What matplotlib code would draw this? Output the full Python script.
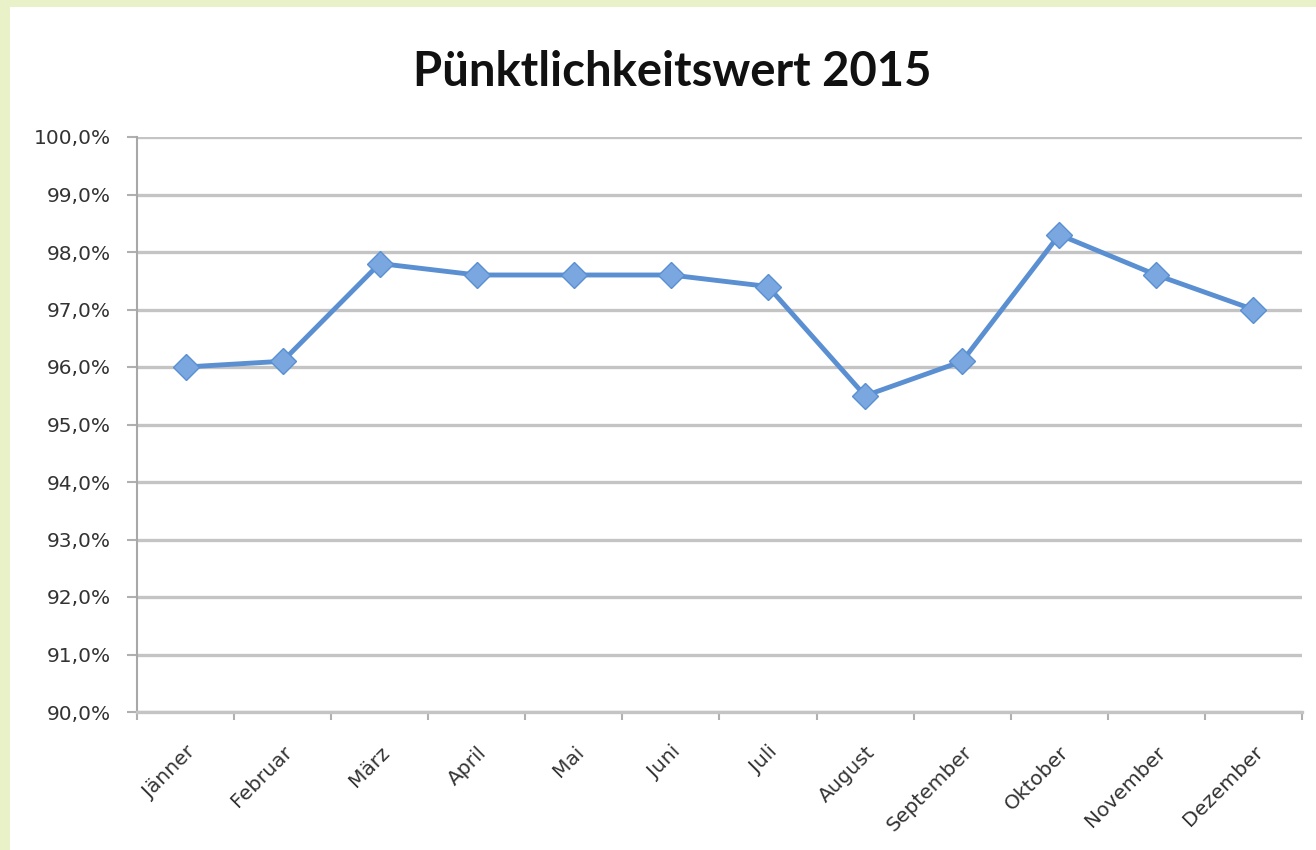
import matplotlib
matplotlib.use('Agg')
import matplotlib.pyplot as plt
from matplotlib.patches import Rectangle
from matplotlib.ticker import FuncFormatter
import numpy as np

plt.rcParams['font.family'] = ['Lato', 'DejaVu Sans']

months = ['Jänner', 'Februar', 'März', 'April', 'Mai', 'Juni', 'Juli',
          'August', 'September', 'Oktober', 'November', 'Dezember']
values = [96.0, 96.1, 97.8, 97.6, 97.6, 97.6, 97.4, 95.5, 96.1, 98.3, 97.6, 97.0]
y_ticks = [90, 91, 92, 93, 94, 95, 96, 97, 98, 99, 100]

fig = plt.figure(figsize=(13.16, 8.5), dpi=100, facecolor='#e9f1c9')
# white chart area inside the green frame
fig.patches.append(Rectangle((10 / 1316, 0), 1, 843 / 850, transform=fig.transFigure,
                             facecolor='white', edgecolor='none', zorder=-1))

ax = fig.add_axes([137 / 1316, 138 / 850, 1165 / 1316, 575 / 850])
ax.set_facecolor('none')
ax.set_zorder(1)

x = np.arange(len(months))
ax.plot(x, values, color='#5a8fd2', linewidth=3.5, marker='D', markersize=13,
        markerfacecolor='#7aa7e0', markeredgecolor='#5a8fd2', markeredgewidth=1, zorder=3)

ax.set_xlim(-0.5, len(months) - 0.5)
ax.set_ylim(90, 100)
ax.set_yticks(y_ticks)
ax.yaxis.set_major_formatter(FuncFormatter(lambda v, p: f'{v:.1f}%'.replace('.', ',')))
ax.grid(axis='y', color='#c4c4c4', linewidth=2.4, zorder=1)
ax.set_axisbelow(True)

ax.set_xticks(x)
ax.set_xticklabels(months, rotation=45, ha='right', rotation_mode='anchor',
                   fontfamily='DejaVu Sans')
ax.set_xticks(np.arange(-0.5, len(months)), minor=True)
ax.tick_params(axis='x', which='major', length=0, pad=22, labelsize=14.5, labelcolor='#333333')
ax.tick_params(axis='x', which='minor', length=6, width=1.5, color='#b0b0b0')
ax.tick_params(axis='y', length=7, width=1.5, color='#b0b0b0', labelsize=14.5,
               labelcolor='#333333', pad=12)
for t in ax.get_yticklabels():
    t.set_fontfamily('DejaVu Sans')

for s in ['top', 'right']:
    ax.spines[s].set_visible(False)
ax.spines['left'].set_color('#a8a8a8')
ax.spines['left'].set_linewidth(1.5)
ax.spines['bottom'].set_color('#c4c4c4')
ax.spines['bottom'].set_linewidth(2.4)

fig.text(672 / 1316, 1 - 72 / 850, 'Pünktlichkeitswert 2015', ha='center', va='center',
         fontsize=34, fontweight='bold', color='#111111')

fig.savefig('out.png', dpi=100, facecolor=fig.get_facecolor())
